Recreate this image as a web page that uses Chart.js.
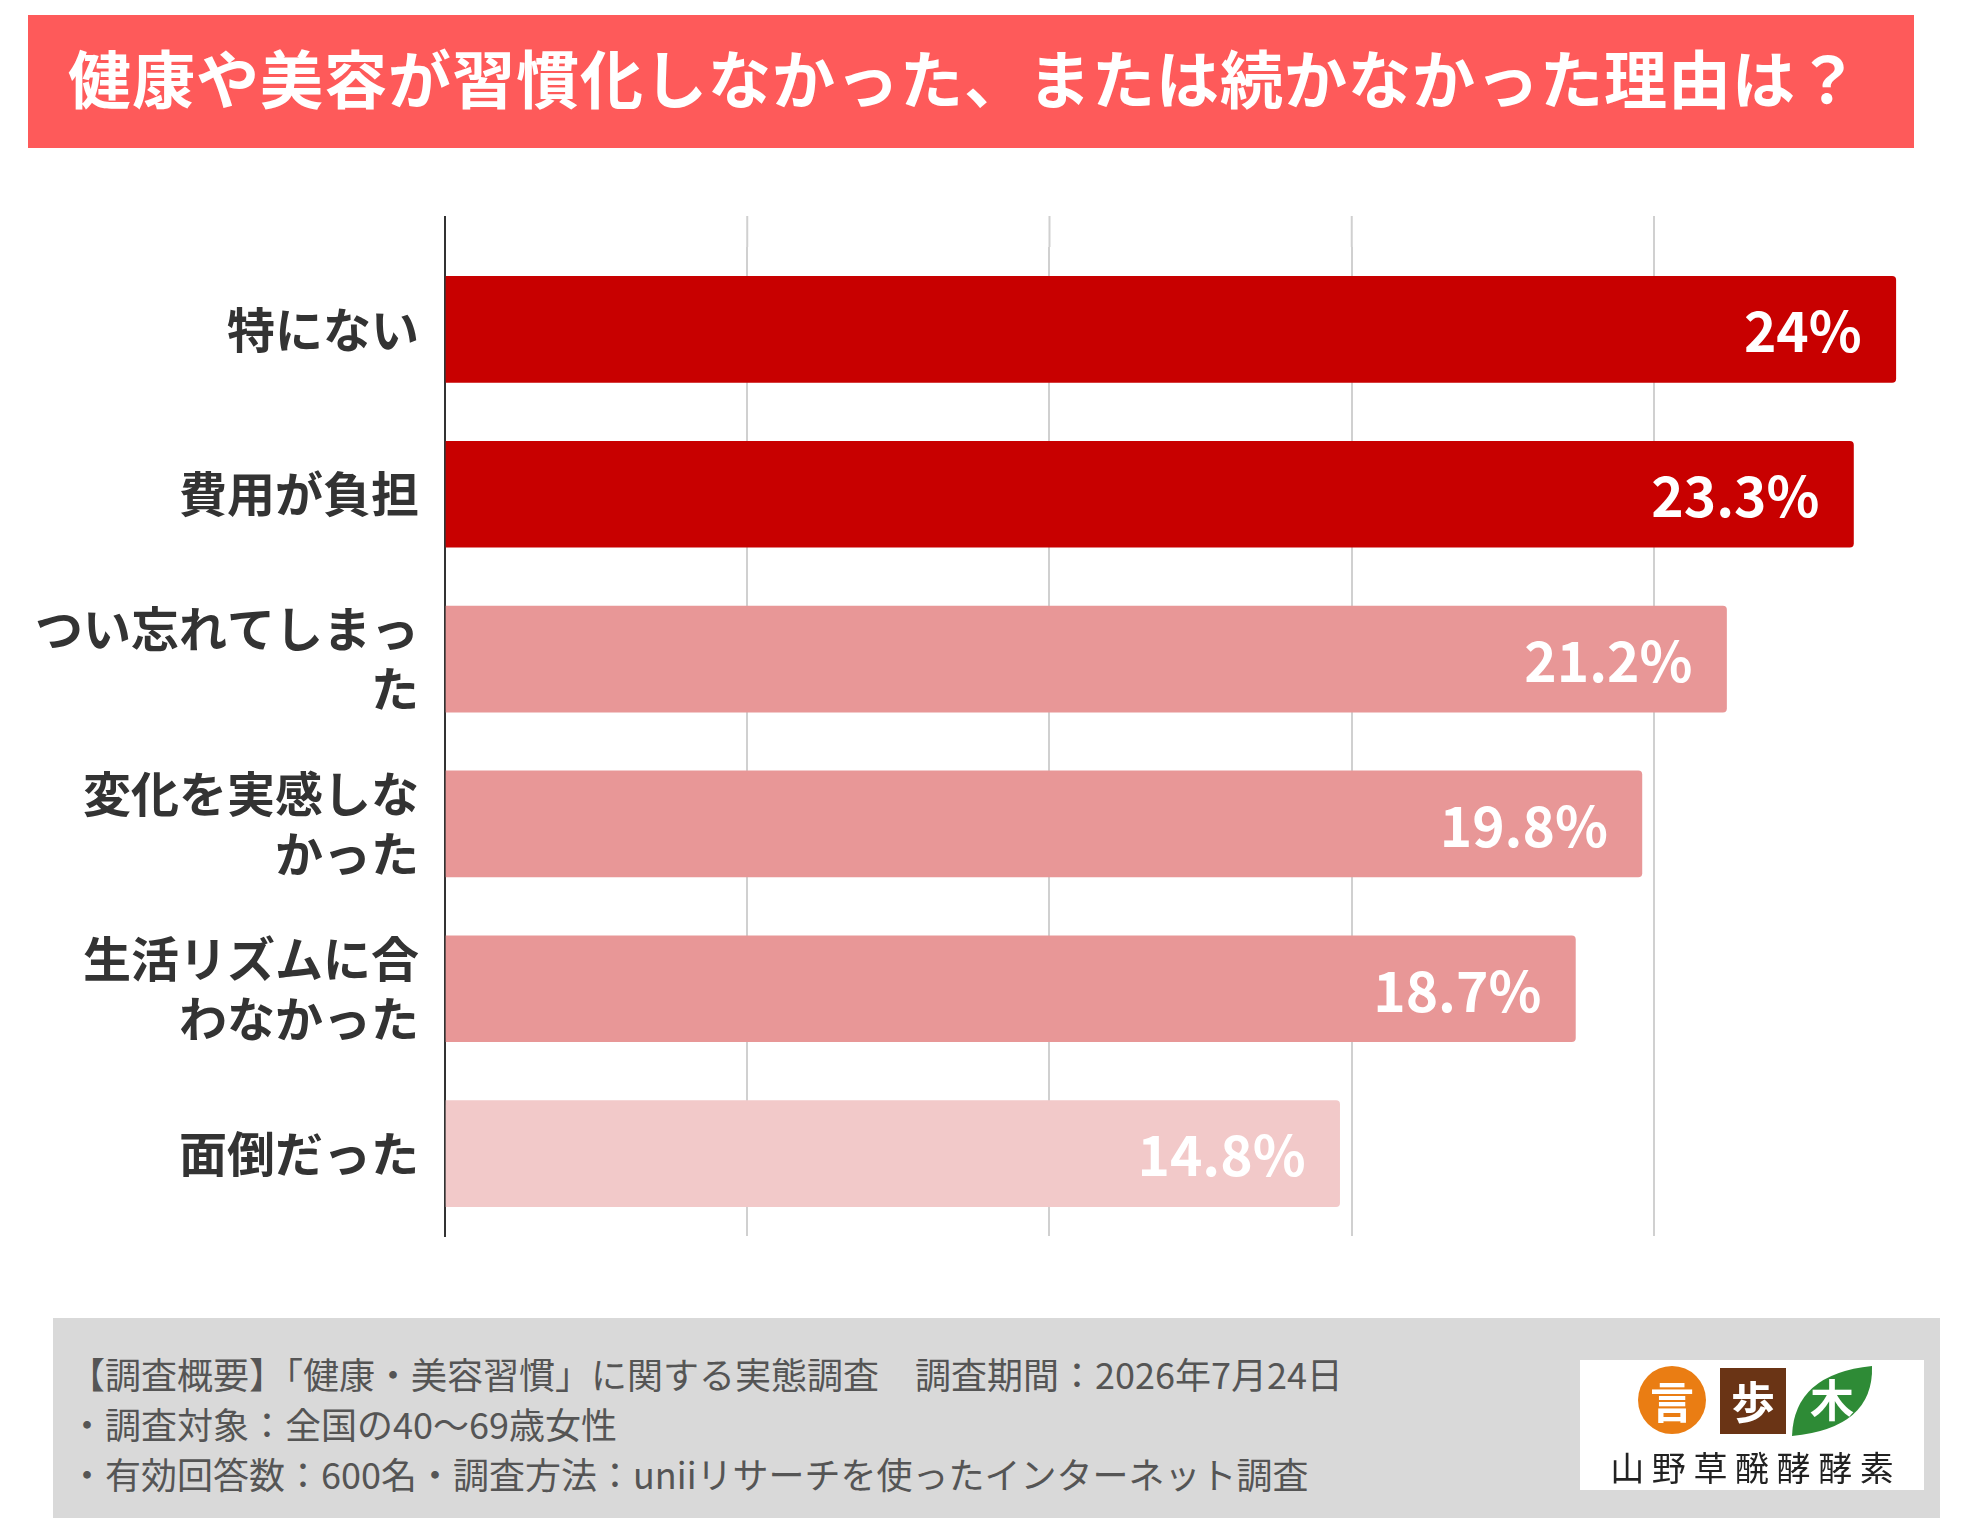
<!DOCTYPE html>
<html><head><meta charset="utf-8">
<script src="https://cdn.jsdelivr.net/npm/chart.js@4"></script>
<style>
body{margin:0;width:1962px;height:1536px;background:#fff;position:relative;font-family:"Noto Sans CJK JP",sans-serif;overflow:hidden}
#title{position:absolute;left:28px;top:15px;width:1886px;height:133px;background:#fe5a5a;color:#fff;font-weight:bold;font-size:63px;line-height:122px;padding-left:40px;box-sizing:border-box;letter-spacing:1px}
#chart{position:absolute;left:0;top:0}
#foot{position:absolute;left:53px;top:1318px;width:1887px;height:200px;background:#d9d9d9;color:#555;font-size:36px;line-height:50px;padding:30px 0 0 16px;box-sizing:border-box}
#logo{position:absolute;left:1580px;top:1360px;width:344px;height:130px;background:#fff}
</style></head><body>
<div id="title">健康や美容が習慣化しなかった、または続かなかった理由は？</div>
<canvas id="chart" width="1962" height="1300"></canvas>
<div id="foot">【調査概要】「健康・美容習慣」に関する実態調査　調査期間：2026年7月24日<br>・調査対象：全国の40～69歳女性<br>・有効回答数：600名・調査方法：uniiリサーチを使ったインターネット調査</div>
<canvas id="logo" width="344" height="130"></canvas>
<script>
const categories = ['特にない', '費用が負担', ['つい忘れてしまっ', 'た'], ['変化を実感しな', 'かった'], ['生活リズムに合', 'わなかった'], '面倒だった'];
const values = [24, 23.3, 21.2, 19.8, 18.7, 14.8];
const valueLabels = ['24%', '23.3%', '21.2%', '19.8%', '18.7%', '14.8%'];
const barColors = ['#c80000', '#c80000', '#e89797', '#e89797', '#e89797', '#f2c9c9'];
const gridTop = 216;

// grid lines and axis start a little above the first band
const extendGrid = {
  id: 'extendGrid',
  beforeDatasetsDraw(chart) {
    const { ctx, chartArea, scales } = chart;
    ctx.save();
    ctx.lineWidth = 2;
    ctx.strokeStyle = '#d0d0d0';
    [5, 10, 15, 20].forEach(v => {
      const x = scales.x.getPixelForValue(v);
      ctx.beginPath(); ctx.moveTo(x, gridTop); ctx.lineTo(x, chartArea.top); ctx.stroke();
    });
    ctx.strokeStyle = '#333';
    ctx.beginPath(); ctx.moveTo(chartArea.left, gridTop); ctx.lineTo(chartArea.left, chartArea.top + 2); ctx.stroke();
    ctx.restore();
  }
};

const valueLabelPlugin = {
  id: 'valueLabels',
  afterDatasetsDraw(chart) {
    const ctx = chart.ctx;
    ctx.save();
    ctx.fillStyle = '#fff';
    ctx.font = 'bold 55px "Noto Sans CJK JP", sans-serif';
    ctx.textAlign = 'right';
    ctx.textBaseline = 'middle';
    chart.getDatasetMeta(0).data.forEach((bar, i) => {
      ctx.fillText(valueLabels[i], bar.x - 34, bar.y + 2);
    });
    ctx.restore();
  }
};

new Chart(document.getElementById('chart'), {
  type: 'bar',
  data: {
    labels: categories,
    datasets: [{ data: values, backgroundColor: barColors, barThickness: 106, borderRadius: 4, borderSkipped: 'start' }]
  },
  options: {
    indexAxis: 'y',
    responsive: false,
    animation: false,
    devicePixelRatio: 1,
    layout: { padding: { top: 247, bottom: 64, right: 36, left: 0 } },
    plugins: { legend: { display: false }, tooltip: { enabled: false } },
    scales: {
      x: {
        min: 0, max: 24.5,
        ticks: { display: false, stepSize: 5 },
        border: { display: false },
        grid: { color: c => (c.tick && c.tick.value % 5 === 0 && c.tick.value > 0) ? '#d0d0d0' : 'rgba(0,0,0,0)', lineWidth: 2, drawTicks: false }
      },
      y: {
        afterFit: s => { s.width = 445; },
        border: { color: '#333', width: 2 },
        grid: { display: false, drawTicks: false },
        ticks: { color: '#333', padding: 26, font: { size: 48, weight: 'bold', family: '"Noto Sans CJK JP", sans-serif', lineHeight: 1.25 } }
      }
    }
  },
  plugins: [extendGrid, valueLabelPlugin]
});

// logo
const lg = document.getElementById('logo').getContext('2d');
lg.fillStyle = '#ea7d13';
lg.beginPath(); lg.arc(92, 40, 34, 0, Math.PI * 2); lg.fill();
lg.fillStyle = '#6a3415';
lg.fillRect(140, 8, 66, 66);
lg.fillStyle = '#2e8b36';
lg.beginPath(); lg.moveTo(212, 76); lg.quadraticCurveTo(214, 14, 292, 6); lg.quadraticCurveTo(294, 68, 212, 76); lg.fill();
lg.fillStyle = '#fff';
lg.font = 'bold 44px "Noto Sans CJK JP"';
lg.textAlign = 'center'; lg.textBaseline = 'middle';
lg.fillText('言', 92, 42); lg.fillText('歩', 173, 42); lg.fillText('木', 252, 40);
lg.fillStyle = '#222';
lg.font = '34px "Noto Sans CJK JP"';
lg.fillText('山 野 草 醗 酵 酵 素', 172, 108);
</script>
</body></html>
